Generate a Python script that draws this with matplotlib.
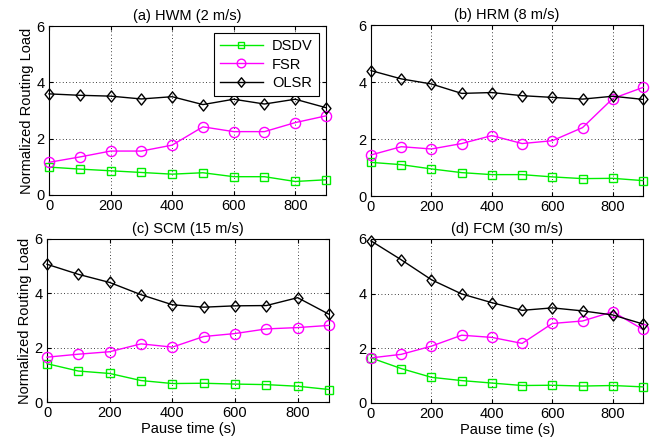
import matplotlib
matplotlib.use("Agg")
import matplotlib.pyplot as plt
from matplotlib.path import Path

plt.rcParams['font.family'] = ['Liberation Sans', 'DejaVu Sans']

pause = [0, 100, 200, 300, 400, 500, 600, 700, 800, 900]

titles = ["(a) HWM (2 m/s)", "(b) HRM (8 m/s)", "(c) SCM (15 m/s)", "(d) FCM (30 m/s)"]

dsdv_a = [0.99, 0.92, 0.86, 0.80, 0.74, 0.79, 0.65, 0.65, 0.48, 0.54]
fsr_a = [1.16, 1.35, 1.56, 1.56, 1.77, 2.42, 2.25, 2.25, 2.57, 2.81]
olsr_a = [3.59, 3.54, 3.51, 3.41, 3.49, 3.21, 3.40, 3.23, 3.40, 3.10]

dsdv_b = [1.18, 1.10, 0.95, 0.82, 0.75, 0.75, 0.67, 0.61, 0.62, 0.54]
fsr_b = [1.44, 1.73, 1.65, 1.84, 2.12, 1.84, 1.94, 2.40, 3.42, 3.81]
olsr_b = [4.40, 4.11, 3.93, 3.60, 3.63, 3.52, 3.46, 3.40, 3.50, 3.39]

dsdv_c = [1.41, 1.14, 1.05, 0.79, 0.68, 0.69, 0.66, 0.64, 0.58, 0.46]
fsr_c = [1.65, 1.76, 1.85, 2.14, 2.02, 2.41, 2.52, 2.69, 2.74, 2.82]
olsr_c = [5.07, 4.70, 4.40, 3.95, 3.58, 3.49, 3.54, 3.55, 3.84, 3.23]

dsdv_d = [1.65, 1.26, 0.94, 0.82, 0.73, 0.64, 0.65, 0.62, 0.64, 0.59]
fsr_d = [1.65, 1.78, 2.08, 2.48, 2.40, 2.18, 2.91, 3.00, 3.34, 2.69]
olsr_d = [5.93, 5.24, 4.51, 3.99, 3.67, 3.39, 3.48, 3.37, 3.22, 2.89]

panels = [(dsdv_a, fsr_a, olsr_a), (dsdv_b, fsr_b, olsr_b),
          (dsdv_c, fsr_c, olsr_c), (dsdv_d, fsr_d, olsr_d)]

positions = [
    [49/664, (445-195)/445, 277/664, 169/445],
    [371/664, (445-196)/445, 272/664, 171/445],
    [47/664, (445-402)/445, 282/664, 163/445],
    [371/664, (445-403)/445, 272/664, 164/445],
]

diamond = Path([(0, 1), (0.8, 0), (0, -1), (-0.8, 0), (0, 1)],
               [Path.MOVETO, Path.LINETO, Path.LINETO, Path.LINETO, Path.CLOSEPOLY])

fig = plt.figure(figsize=(6.64, 4.45), dpi=100)
fs = 10.5
for i, (pos, (d, f, o), t) in enumerate(zip(positions, panels, titles)):
    ax = fig.add_axes(pos)
    ax.plot(pause, d, color='#00ee00', marker='s', markersize=5.3, mfc='none',
            mec='#00ee00', lw=1.0, mew=1.0, label='DSDV', clip_on=False, zorder=3)
    ax.plot(pause, f, color='#ff00ff', marker='o', markersize=7.3, mfc='none',
            mec='#ff00ff', lw=1.0, mew=1.0, label='FSR', clip_on=False, zorder=3)
    ax.plot(pause, o, color='black', marker=diamond, markersize=8, mfc='none',
            mec='black', lw=1.0, mew=1.0, label='OLSR', clip_on=False, zorder=3)
    ax.set_xlim(0, 900)
    ax.set_ylim(0, 6)
    ax.set_xticks([0, 200, 400, 600, 800])
    ax.set_yticks([0, 2, 4, 6])
    ax.grid(True, linestyle=(0, (1, 3)), color='black', linewidth=0.6)
    ax.tick_params(direction='in', labelsize=fs, length=3, top=True, right=True, pad=3)
    ax.set_title(t, fontsize=fs, pad=4)
    for s in ax.spines.values():
        s.set_linewidth(0.8)
    if i % 2 == 0:
        ax.set_ylabel('Normalized Routing Load', fontsize=fs, labelpad=2)
    if i >= 2:
        ax.set_xlabel('Pause time (s)', fontsize=fs, labelpad=1)
    if i == 0:
        leg = ax.legend(loc='upper right', fontsize=fs, handlelength=3.0,
                        fancybox=False, edgecolor='black', framealpha=1,
                        borderaxespad=0.5, labelspacing=0.3, handletextpad=0.6,
                        borderpad=0.4, markerscale=0.85)
        leg.get_frame().set_linewidth(0.8)

fig.savefig('out.png', dpi=100)
